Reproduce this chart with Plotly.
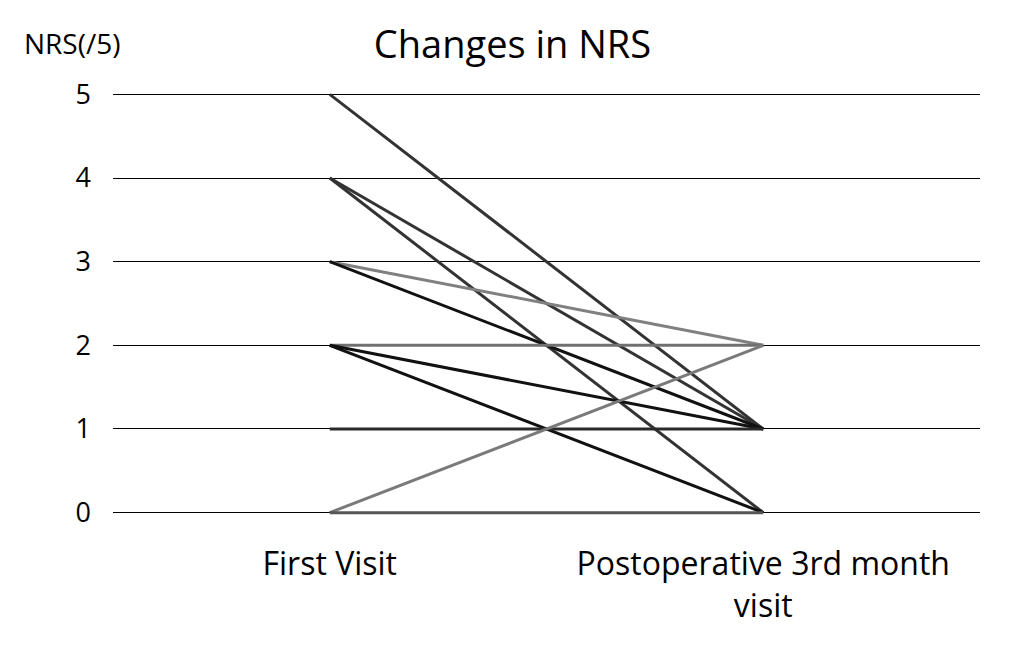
import plotly.graph_objects as go

visits = ["First Visit", "Postoperative 3rd month<br>visit"]

# NRS per patient: (first visit, postoperative 3rd month)
first_visit = [5, 4, 4, 3, 3, 2, 2, 2, 1, 0, 0]
post_3m = [1, 1, 0, 2, 1, 2, 1, 0, 1, 2, 0]
line_colors = ["#333333", "#333333", "#333333", "#808080", "#111111",
               "#707070", "#111111", "#111111", "#2a2a2a", "#7a7a7a", "#555555"]

fig = go.Figure()
for a, b, c in zip(first_visit, post_3m, line_colors):
    fig.add_trace(go.Scatter(x=[0, 1], y=[a, b], mode="lines",
                             line=dict(color=c, width=3), showlegend=False,
                             hoverinfo="skip"))

fig.update_layout(
    width=1009, height=647,
    margin=dict(l=105, r=37, t=78, b=134),
    plot_bgcolor="white", paper_bgcolor="white",
    font=dict(family="Open Sans", color="black"),
    title=dict(text="Changes in NRS", x=0.5, xanchor="center",
               yref="container", y=0.943, yanchor="middle",
               font=dict(size=38, color="black")),
    xaxis=dict(range=[-0.5, 1.5], tickvals=[0, 1], ticktext=visits,
               showgrid=False, zeroline=False, showline=False,
               tickfont=dict(size=32), ticklabelstandoff=21),
    yaxis=dict(range=[-0.1, 5.1], tickvals=[0, 1, 2, 3, 4, 5],
               showgrid=True, gridcolor="black", gridwidth=1,
               zeroline=False, showline=False,
               tickfont=dict(size=27), ticklabelstandoff=21),
    annotations=[dict(text="NRS(/5)", xref="paper", yref="paper",
                      x=-0.105, y=1.099, xanchor="left", yanchor="middle",
                      showarrow=False, font=dict(size=28))],
)

fig.write_html("out.html")
